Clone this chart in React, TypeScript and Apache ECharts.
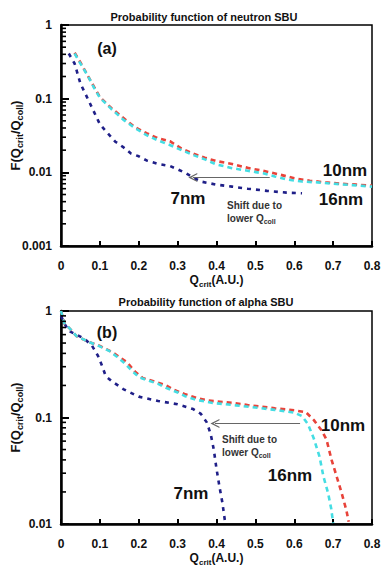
import React, { useEffect, useRef } from "react";
import * as echarts from "echarts";

// ---- data (Q_crit, F) ----
const neutron10nm: [number, number][] = [
  [0.035, 0.42], [0.05, 0.31], [0.07, 0.2], [0.085, 0.145], [0.1, 0.105], [0.13, 0.074],
  [0.16, 0.055], [0.19, 0.041], [0.22, 0.034], [0.25, 0.029], [0.28, 0.0265], [0.31, 0.021],
  [0.34, 0.018], [0.37, 0.0158], [0.4, 0.0142], [0.44, 0.013], [0.48, 0.0115], [0.52, 0.0105],
  [0.56, 0.0094], [0.6, 0.0083], [0.64, 0.0077], [0.68, 0.0073], [0.72, 0.007], [0.76, 0.0068], [0.8, 0.0066],
];
const neutron16nm: [number, number][] = [
  [0.035, 0.41], [0.05, 0.3], [0.07, 0.2], [0.085, 0.14], [0.1, 0.103], [0.13, 0.072],
  [0.16, 0.052], [0.19, 0.04], [0.22, 0.032], [0.25, 0.027], [0.28, 0.0235], [0.31, 0.02],
  [0.34, 0.0172], [0.37, 0.015], [0.4, 0.0128], [0.44, 0.0114], [0.48, 0.0105], [0.52, 0.0097],
  [0.55, 0.0088], [0.58, 0.008], [0.62, 0.0075], [0.66, 0.0073], [0.7, 0.007], [0.75, 0.0067], [0.8, 0.0064],
];
const neutron7nm: [number, number][] = [
  [0.02, 0.41], [0.035, 0.3], [0.05, 0.16], [0.065, 0.11], [0.08, 0.075], [0.1, 0.045],
  [0.12, 0.034], [0.14, 0.026], [0.16, 0.022], [0.18, 0.018], [0.2, 0.0165], [0.22, 0.0145],
  [0.25, 0.013], [0.28, 0.0122], [0.3, 0.011], [0.32, 0.0098], [0.34, 0.0085], [0.36, 0.0075],
  [0.4, 0.0068], [0.44, 0.0064], [0.48, 0.006], [0.53, 0.0056], [0.58, 0.0053], [0.62, 0.0052],
];

const alpha10nm: [number, number][] = [
  [0, 1.0], [0.01, 0.75], [0.02, 0.7], [0.04, 0.58], [0.07, 0.515], [0.1, 0.47], [0.13, 0.415],
  [0.15, 0.37], [0.17, 0.33], [0.19, 0.27], [0.21, 0.235], [0.24, 0.218], [0.27, 0.2], [0.29, 0.182],
  [0.32, 0.165], [0.35, 0.152], [0.38, 0.144], [0.44, 0.137], [0.48, 0.131], [0.55, 0.122],
  [0.6, 0.117], [0.63, 0.112], [0.65, 0.095], [0.67, 0.076], [0.683, 0.062], [0.696, 0.04],
  [0.709, 0.028], [0.722, 0.0195], [0.734, 0.0135], [0.74, 0.0105],
];
const alpha16nm: [number, number][] = [
  [0, 1.0], [0.005, 0.85], [0.01, 0.74], [0.02, 0.7], [0.04, 0.58], [0.07, 0.515], [0.1, 0.465],
  [0.125, 0.42], [0.145, 0.37], [0.165, 0.32], [0.18, 0.28], [0.2, 0.24], [0.22, 0.225], [0.25, 0.207],
  [0.27, 0.19], [0.3, 0.172], [0.32, 0.158], [0.35, 0.146], [0.39, 0.137], [0.45, 0.13], [0.5, 0.124],
  [0.55, 0.118], [0.6, 0.111], [0.62, 0.103], [0.635, 0.087], [0.65, 0.064], [0.665, 0.043],
  [0.675, 0.028], [0.687, 0.0195], [0.695, 0.014], [0.7, 0.0102],
];
const alpha7nm: [number, number][] = [
  [0, 0.9], [0.01, 0.75], [0.02, 0.65], [0.04, 0.6], [0.06, 0.55], [0.08, 0.47], [0.095, 0.38],
  [0.105, 0.31], [0.115, 0.245], [0.13, 0.22], [0.16, 0.185], [0.2, 0.157], [0.25, 0.143],
  [0.3, 0.133], [0.34, 0.12], [0.36, 0.108], [0.375, 0.09], [0.385, 0.07], [0.393, 0.05],
  [0.4, 0.033], [0.408, 0.022], [0.415, 0.016], [0.422, 0.0105],
];

// arrows "Shift due to lower Qcoll": [from, to]
const neutronShift: [number, number][] = [[0.537, 0.0085], [0.339, 0.0085]];
const alphaShift: [number, number][] = [[0.615, 0.088], [0.396, 0.088]];

// log minor tick positions on the y axes
const minorTicksA: number[] = [
  0.002, 0.003, 0.004, 0.005, 0.006, 0.007, 0.008, 0.009,
  0.02, 0.03, 0.04, 0.05, 0.06, 0.07, 0.08, 0.09,
  0.2, 0.3, 0.4, 0.5, 0.6, 0.7, 0.8, 0.9,
];
const minorTicksB: number[] = [
  0.02, 0.03, 0.04, 0.05, 0.06, 0.07, 0.08, 0.09,
  0.2, 0.3, 0.4, 0.5, 0.6, 0.7, 0.8, 0.9,
];

const FONT = "'Liberation Sans', Arial, sans-serif";
const RED = "#e8433a";
const CYAN = "#45dde3";
const NAVY = "#1f1f88";
const INK = "#111";
const AXIS = "#000";

const ARROW_HEAD = "path://M5,0 L10,10 L8.6,10 L5,3.2 L1.4,10 L0,10 Z";

function curve(name: string, data: [number, number][], color: string, dash: number[], idx: number, extra: any = {}) {
  return {
    name,
    type: "line",
    xAxisIndex: idx,
    yAxisIndex: idx,
    data,
    showSymbol: false,
    symbol: "none",
    lineStyle: { color, width: 2.6, type: dash },
    ...extra,
  };
}

function minorTickSeries(values: number[], idx: number) {
  return {
    type: "custom",
    xAxisIndex: idx,
    yAxisIndex: idx,
    silent: true,
    clip: false,
    z: 5,
    data: values.map((v) => [0, v]),
    encode: { x: 0, y: 1 },
    renderItem: (_params: any, api: any) => {
      const p = api.coord([api.value(0), api.value(1)]);
      return {
        type: "rect",
        shape: { x: p[0], y: p[1] - 0.8, width: 5, height: 1.6 },
        style: { fill: AXIS },
      };
    },
  };
}

function arrow(pts: [number, number][]) {
  return {
    silent: true,
    symbol: ["none", ARROW_HEAD],
    symbolSize: [9, 9],
    label: { show: false },
    lineStyle: { color: "#666", width: 1, type: "solid" },
    data: [[{ coord: pts[0] }, { coord: pts[1] }]],
  };
}

function subRich(main: number, sub: number) {
  return {
    m: { fontSize: main, fontWeight: "bold", fontFamily: FONT, color: INK, lineHeight: main + 4, verticalAlign: "middle" },
    s: { fontSize: sub, fontWeight: "bold", fontFamily: FONT, color: INK, lineHeight: sub, verticalAlign: "bottom" },
  };
}

function xAxis(idx: number) {
  return {
    type: "value",
    gridIndex: idx,
    min: 0,
    max: 0.8,
    interval: 0.1,
    splitLine: { show: false },
    axisLine: { show: true, onZero: false, lineStyle: { color: AXIS, width: 2.5 } },
    axisTick: { show: true, inside: true, length: 5, lineStyle: { color: AXIS, width: 2 } },
    axisLabel: {
      margin: 14,
      fontSize: 12,
      fontWeight: "bold",
      fontFamily: FONT,
      color: INK,
    },
    name: "{m|Q}{s|crit}{m|(A.U.)}",
    nameLocation: "middle",
    nameGap: 26,
    nameMoveOverlap: false,
    nameTextStyle: { rich: subRich(12, 8) },
  };
}

function yAxis(idx: number, min: number) {
  return {
    type: "log",
    logBase: 10,
    gridIndex: idx,
    min,
    max: 1,
    splitLine: { show: false },
    axisLine: { show: true, onZero: false, lineStyle: { color: AXIS, width: 2.5 } },
    axisTick: { show: true, inside: true, length: 8, lineStyle: { color: AXIS, width: 2 } },
    axisLabel: {
      margin: 9,
      fontSize: 12,
      fontWeight: "bold",
      fontFamily: FONT,
      color: INK,
    },
    name: "{m|F(Q}{s|crit}{m|/Q}{s|coll}{m|)}",
    nameLocation: "middle",
    nameRotate: 90,
    nameGap: 37,
    nameMoveOverlap: false,
    nameTextStyle: { rich: subRich(13, 9) },
  };
}

function label(text: string, x: number, y: number, size: number) {
  return {
    type: "text",
    x,
    y,
    style: {
      text,
      fontSize: size,
      fontWeight: "bold",
      fontFamily: FONT,
      fill: INK,
      align: "center",
      verticalAlign: "middle",
    },
  };
}

function shiftText(x: number, y: number) {
  return [
    {
      type: "text",
      x,
      y,
      style: { text: "Shift due to", fontSize: 10, fontWeight: "bold", fontFamily: FONT, fill: "#333", align: "left", verticalAlign: "middle" },
    },
    {
      type: "text",
      x,
      y: y + 13,
      style: {
        text: "{m|lower Q}{s|coll}",
        align: "left",
        verticalAlign: "middle",
        rich: {
          m: { fontSize: 10, fontWeight: "bold", fontFamily: FONT, fill: "#333", lineHeight: 13, verticalAlign: "middle" },
          s: { fontSize: 7, fontWeight: "bold", fontFamily: FONT, fill: "#333", lineHeight: 7, verticalAlign: "bottom" },
        },
      },
    },
  ];
}

export default function App() {
  const ref = useRef<HTMLDivElement>(null);
  useEffect(() => {
    if (!ref.current) return;
    const chart = echarts.init(ref.current, undefined, { renderer: "svg" });
    chart.setOption({
      animation: false,
      grid: [
        { left: 61, top: 25, width: 311, height: 221, show: true, borderColor: "#000", borderWidth: 1.5, containLabel: false, outerBoundsMode: "none" },
        { left: 61, top: 311, width: 311, height: 213, show: true, borderColor: "#000", borderWidth: 1.5, containLabel: false, outerBoundsMode: "none" },
      ],
      xAxis: [xAxis(0), xAxis(1)],
      yAxis: [yAxis(0, 0.001), yAxis(1, 0.01)],
      series: [
        curve("7nm (a)", neutron7nm, NAVY, [4, 5], 0, { markLine: arrow(neutronShift) }),
        curve("10nm (a)", neutron10nm, RED, [5, 4], 0),
        curve("16nm (a)", neutron16nm, CYAN, [5, 4], 0),
        curve("7nm (b)", alpha7nm, NAVY, [4, 5], 1, { markLine: arrow(alphaShift) }),
        curve("10nm (b)", alpha10nm, RED, [5, 4], 1),
        curve("16nm (b)", alpha16nm, CYAN, [5, 4], 1),
        minorTickSeries(minorTicksA, 0),
        minorTickSeries(minorTicksB, 1),
      ],
      graphic: [
        label("Probability function of neutron SBU", 204, 17, 11),
        label("Probability function of alpha SBU", 206, 302, 11),
        label("(a)", 107, 48, 16),
        label("10nm", 345, 170, 17),
        label("16nm", 341, 199, 17),
        label("7nm", 188, 198, 17),
        ...shiftText(227, 205),
        label("(b)", 107, 332, 16),
        label("10nm", 343, 425, 17),
        label("16nm", 290, 475, 17),
        label("7nm", 191, 493, 17),
        ...shiftText(222, 439),
      ],
    });
    return () => chart.dispose();
  }, []);
  return (
    <div
      ref={ref}
      style={{ position: "fixed", left: 0, top: 0, width: 381, height: 570, background: "#fff" }}
    />
  );
}
